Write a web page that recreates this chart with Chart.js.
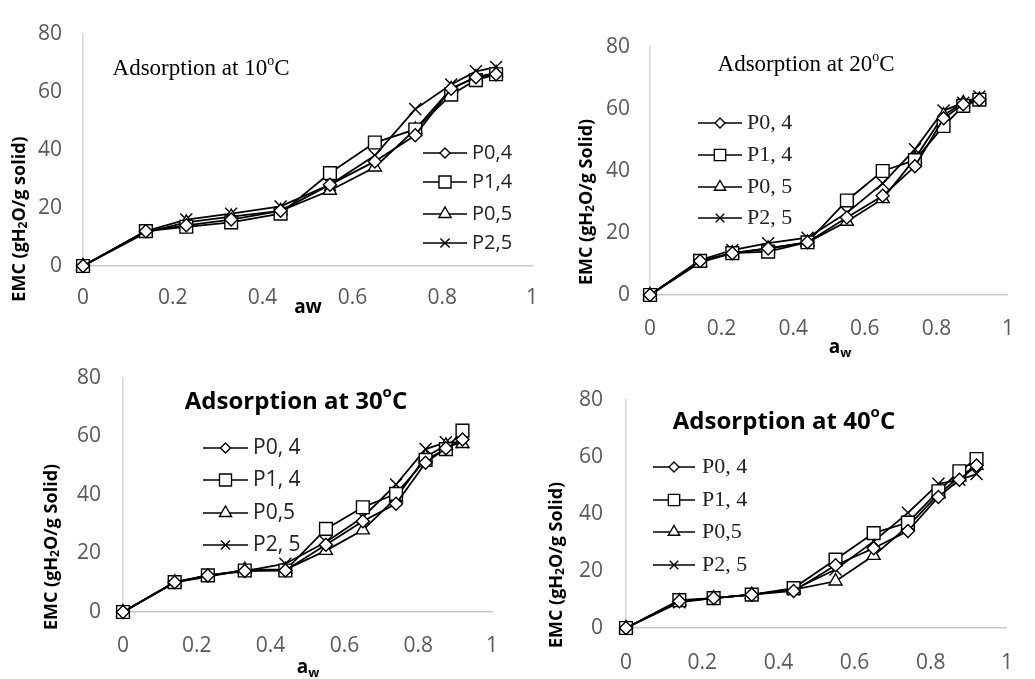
<!DOCTYPE html>
<html>
<head>
<meta charset="utf-8">
<script src="https://cdn.jsdelivr.net/npm/chart.js@4.4.1/dist/chart.umd.min.js"></script>
<style>
  html, body { margin: 0; padding: 0; background: #fff; }
  body { width: 1035px; height: 679px; overflow: hidden; position: relative; }
  canvas { position: absolute; left: 0; top: 0; }
</style>
</head>
<body>
<canvas id="c10" width="1035" height="679"></canvas>
<canvas id="c20" width="1035" height="679"></canvas>
<canvas id="c30" width="1035" height="679"></canvas>
<canvas id="c40" width="1035" height="679"></canvas>
<script>
// ---------------- DATA ----------------
const AW = [0, 0.14, 0.23, 0.33, 0.44, 0.55, 0.65, 0.74, 0.82, 0.875, 0.92];
const X_TICKS = [0, 0.2, 0.4, 0.6, 0.8, 1];
const X_LABELS = ['0', '0.2', '0.4', '0.6', '0.8', '1'];
const Y_TICKS = [0, 20, 40, 60, 80];

const names10 = ['P0,4', 'P1,4', 'P0,5', 'P2,5'];
const p04_10 = [0, 12, 14, 16, 19, 28, 36, 45, 61, 65, 66];
const p14_10 = [0, 12, 13.5, 15, 18, 32, 42.5, 47, 59, 64, 66];
const p05_10 = [0, 11.5, 15, 17, 19, 26, 34, 47, 61, 65, 66.5];
const p25_10 = [0, 12, 16, 18, 20.5, 28, 38, 54, 62.5, 67, 68.5];

const names20 = ['P0, 4', 'P1, 4', 'P0, 5', 'P2, 5'];
const p04_20 = [0, 11, 13.5, 15, 17, 25, 32, 41.5, 57, 61.5, 63];
const p14_20 = [0, 11, 13.5, 14, 17, 30.5, 40, 43.5, 54.5, 61, 63];
const p05_20 = [0, 10.5, 13.5, 15, 17, 23.7, 31, 44, 58, 62, 63];
const p25_20 = [0, 11.3, 14.5, 16.7, 18.5, 26.5, 36, 47, 59.5, 62, 64];

const names30 = ['P0, 4', 'P1, 4', 'P0,5', 'P2, 5'];
const p04_30 = [0, 10.2, 12.5, 14, 14.2, 23, 31, 37, 51, 56, 59];
const p14_30 = [0, 10.2, 12.5, 14.2, 14.2, 28.4, 35.8, 40.4, 52, 55.7, 62];
const p05_30 = [0, 10.2, 12, 14.5, 14.5, 21, 28, 39, 53, 57, 57.5];
const p25_30 = [0, 10, 12.5, 14, 16.5, 23.9, 32.4, 43.6, 55.7, 58, 58];

const names40 = ['P0, 4', 'P1, 4', 'P0,5', 'P2, 5'];
const p04_40 = [0, 9.4, 10.5, 11.7, 13, 22, 28, 34, 46, 52, 57];
const p14_40 = [0, 9.8, 10.5, 11.7, 14, 24, 33.3, 37, 48, 55, 59.3];
const p05_40 = [0, 9.4, 10.5, 11.7, 13.5, 16.4, 25.4, 35.7, 47, 53, 57];
const p25_40 = [0, 9, 10.5, 11.7, 13.5, 20.5, 30.4, 40.4, 50.6, 52, 54];

// ---------------- STYLE ----------------
const STYLES = ['rectRot', 'rect', 'triangle', 'crossRot'];
const RADII = [6.5, 9, 7.5, 8.5];
const SANS = '"Open Sans", "Noto Sans", sans-serif';
const SERIF = '"Liberation Serif", "DejaVu Serif", serif';

function marker(ctx, style, x, y, r) {
  ctx.beginPath();
  if (style === 'rectRot') {
    ctx.moveTo(x, y - r); ctx.lineTo(x + r, y); ctx.lineTo(x, y + r); ctx.lineTo(x - r, y); ctx.closePath();
    ctx.fill(); ctx.stroke();
  } else if (style === 'rect') {
    const s = r * Math.SQRT1_2;
    ctx.rect(x - s, y - s, 2 * s, 2 * s);
    ctx.fill(); ctx.stroke();
  } else if (style === 'triangle') {
    let a = 0;
    ctx.moveTo(x + Math.sin(a) * r, y - Math.cos(a) * r);
    a += 2 * Math.PI / 3; ctx.lineTo(x + Math.sin(a) * r, y - Math.cos(a) * r);
    a += 2 * Math.PI / 3; ctx.lineTo(x + Math.sin(a) * r, y - Math.cos(a) * r);
    ctx.closePath(); ctx.fill(); ctx.stroke();
  } else {
    const d = r * Math.SQRT1_2;
    ctx.moveTo(x - d, y - d); ctx.lineTo(x + d, y + d);
    ctx.moveTo(x + d, y - d); ctx.lineTo(x - d, y + d);
    ctx.stroke();
  }
}

function richWidth(ctx, parts) {
  let w = 0;
  for (const p of parts) { ctx.font = p.f; w += ctx.measureText(p.t).width; }
  return w;
}
function drawRich(ctx, parts, x, y) {
  let cx = x - richWidth(ctx, parts) / 2;
  ctx.textAlign = 'left';
  ctx.textBaseline = 'middle';
  for (const p of parts) {
    ctx.font = p.f;
    ctx.fillText(p.t, cx, y + (p.dy || 0));
    cx += ctx.measureText(p.t).width;
  }
}

const deco = {
  id: 'deco',
  afterDatasetsDraw(chart, args, o) {
    const ctx = chart.ctx;
    ctx.save();
    ctx.fillStyle = '#000';
    drawRich(ctx, o.title.parts, o.title.x, o.title.y);
    // legend
    const L = o.legend;
    chart.data.datasets.forEach((ds, i) => {
      const y = L.ys[i];
      ctx.strokeStyle = '#000';
      ctx.lineWidth = 1.7;
      ctx.beginPath(); ctx.moveTo(L.x0, y); ctx.lineTo(L.x1, y); ctx.stroke();
      ctx.fillStyle = '#fff';
      ctx.lineWidth = 1.4;
      marker(ctx, STYLES[i], (L.x0 + L.x1) / 2, y, L.r[i]);
      ctx.fillStyle = '#222';
      ctx.font = L.font;
      ctx.textAlign = 'left';
      ctx.textBaseline = 'middle';
      ctx.fillText(ds.label, L.tx, y);
    });
    // y title
    ctx.fillStyle = '#000';
    ctx.save();
    ctx.translate(o.ytitle.x, o.ytitle.y);
    ctx.rotate(-Math.PI / 2);
    drawRich(ctx, o.ytitle.parts, 0, 0);
    ctx.restore();
    // x title
    drawRich(ctx, o.xtitle.parts, o.xtitle.x, o.xtitle.y);
    ctx.restore();
  }
};

function yTitleParts(word) {
  const f = 'bold 18px ' + SANS;
  return [{ t: 'EMC (gH', f }, { t: '2', f: 'bold 12px ' + SANS, dy: 4 }, { t: 'O/g ' + word + ')', f }];
}
function awParts(sub) {
  const f = 'bold 19px ' + SANS;
  if (!sub) return [{ t: 'aw', f }];
  return [{ t: 'a', f }, { t: 'w', f: 'bold 13px ' + SANS, dy: 5 }];
}
function serifTitle(temp) {
  return [{ t: 'Adsorption at ' + temp, f: '23px ' + SERIF }, { t: 'o', f: '14px ' + SERIF, dy: -8 }, { t: 'C', f: '23px ' + SERIF }];
}
function sansTitle(temp) {
  return [{ t: 'Adsorption at ' + temp, f: 'bold 24px ' + SANS }, { t: 'o', f: 'bold 15px ' + SANS, dy: -9 }, { t: 'C', f: 'bold 24px ' + SANS }];
}

function makeChart(id, names, series, cfg) {
  const YW = 60, XH = 45;
  const a = cfg.area;
  const datasets = series.map((vals, i) => ({
    label: names[i],
    data: AW.map((x, j) => ({ x: x, y: vals[j] })),
    showLine: true,
    borderColor: '#000',
    borderWidth: 1.8,
    pointStyle: STYLES[i],
    pointRadius: RADII[i],
    pointBackgroundColor: '#fff',
    pointBorderColor: '#000',
    pointBorderWidth: 1.4,
    tension: 0,
    clip: false
  }));
  return new Chart(document.getElementById(id), {
    type: 'scatter',
    data: { datasets },
    plugins: [deco],
    options: {
      responsive: false,
      animation: false,
      events: [],
      layout: { padding: { left: a.l - YW, right: 1035 - a.r, top: a.t, bottom: 679 - a.b - XH } },
      plugins: {
        legend: { display: false },
        tooltip: { enabled: false },
        deco: cfg.deco
      },
      scales: {
        x: {
          type: 'linear', min: 0, max: 1,
          afterBuildTicks: s => { s.ticks = X_TICKS.map(v => ({ value: v })); },
          afterFit: s => { s.height = XH; },
          ticks: {
            color: '#595959', font: { family: SANS, size: 21 }, padding: cfg.xpad, maxRotation: 0, autoSkip: false,
            callback: (v, i) => X_LABELS[i]
          },
          grid: { display: false, drawTicks: false },
          border: { display: true, color: '#c8c8c8', width: 1.6 }
        },
        y: {
          type: 'linear', min: 0, max: 80,
          afterBuildTicks: s => { s.ticks = Y_TICKS.map(v => ({ value: v })); },
          afterFit: s => { s.width = YW; },
          ticks: { color: '#595959', font: { family: SANS, size: 21 }, padding: cfg.ypad, callback: v => String(v) },
          grid: { display: false, drawTicks: false },
          border: { display: true, color: '#d9d9d9', width: 1.6 }
        }
      }
    }
  });
}

makeChart('c10', names10, [p04_10, p14_10, p05_10, p25_10], {
  area: { l: 83, r: 532, t: 28, b: 266 }, xpad: 19, ypad: 21,
  deco: {
    title: { parts: serifTitle('10'), x: 201, y: 69 },
    legend: { x0: 423, x1: 467, tx: 472, ys: [153, 182, 214, 243], font: '20px ' + SANS, r: [5, 8.5, 7, 6.5] },
    ytitle: { parts: yTitleParts('solid'), x: 20, y: 219 },
    xtitle: { parts: awParts(false), x: 308, y: 308 }
  }
});
makeChart('c20', names20, [p04_20, p14_20, p05_20, p25_20], {
  area: { l: 650, r: 1028, t: 47, b: 295 }, xpad: 21, ypad: 20,
  deco: {
    title: { parts: serifTitle('20'), x: 806, y: 65 },
    legend: { x0: 698, x1: 742, tx: 747, ys: [123, 155, 187, 218], font: '22px ' + SERIF, r: [5, 8, 6.5, 6] },
    ytitle: { parts: yTitleParts('Solid'), x: 587, y: 202 },
    xtitle: { parts: awParts(true), x: 840, y: 348 }
  }
});
makeChart('c30', names30, [p04_30, p14_30, p05_30, p25_30], {
  area: { l: 123, r: 492, t: 378, b: 612 }, xpad: 21, ypad: 22,
  deco: {
    title: { parts: sansTitle('30'), x: 296, y: 402 },
    legend: { x0: 203, x1: 248, tx: 253, ys: [448, 480, 513, 545], font: '21px ' + SANS, r: [5, 8.5, 7, 6.5] },
    ytitle: { parts: yTitleParts('Solid'), x: 52, y: 547 },
    xtitle: { parts: awParts(true), x: 308, y: 668 }
  }
});
makeChart('c40', names40, [p04_40, p14_40, p05_40, p25_40], {
  area: { l: 626, r: 1017, t: 400, b: 628 }, xpad: 22, ypad: 23,
  deco: {
    title: { parts: sansTitle('40'), x: 784, y: 422 },
    legend: { x0: 653, x1: 695, tx: 702, ys: [467, 500, 532, 565], font: '22px ' + SERIF, r: [5, 8, 6.5, 6] },
    ytitle: { parts: yTitleParts('Solid'), x: 557, y: 565 },
    xtitle: { parts: awParts(true), x: 815, y: 690 }
  }
});
</script>
</body>
</html>
